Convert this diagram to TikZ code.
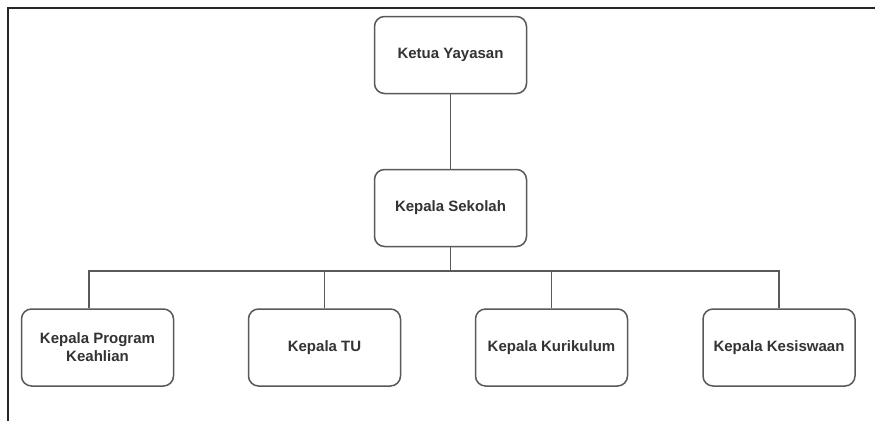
\documentclass[tikz,border=0pt]{standalone}
\usepackage{fontspec}
\setmainfont{Liberation Sans}
\begin{document}
\begin{tikzpicture}[x=1pt,y=-1pt,
  box/.style={draw=black!65, line width=1.5pt, rounded corners=10pt, fill=white,
    minimum width=152pt, minimum height=77pt, align=center, inner sep=2pt,
    text=black!80, font=\fontsize{15}{18}\selectfont\bfseries},
  link/.style={draw=black!65, line width=1.5pt},
  frame/.style={draw=black!85, line width=2pt}]
\useasboundingbox (0,0) rectangle (875,421);
\fill[white] (0,0) rectangle (875,421);
\coordinate (ftr) at (875,8);
\coordinate (fbl) at (8,421);
\draw[frame] (ftr) -- (8,8) -- (fbl);

\node[box] (ketua) at (450.5,55) {Ketua Yayasan};
\node[box] (sekolah) at (450.5,208) {Kepala Sekolah};
\node[box] (prog) at (97.5,347.5) {Kepala Program\\Keahlian};
\node[box] (tu) at (324.5,347.5) {Kepala TU};
\node[box] (kur) at (551.5,347.5) {Kepala Kurikulum};
\node[box] (kes) at (779,347.5) {Kepala Kesiswaan};

\coordinate (bus) at (450.5,271);
\draw[link] (ketua) -- (sekolah);
\draw[link] (sekolah.south) -- (bus);
\draw[link] (prog.north -| 89,0) -- (89,271) -- (kes.north |- bus) -- (kes.north);
\draw[link] (tu.north) -- (tu.north |- bus);
\draw[link] (kur.north) -- (kur.north |- bus);
\end{tikzpicture}
\end{document}
